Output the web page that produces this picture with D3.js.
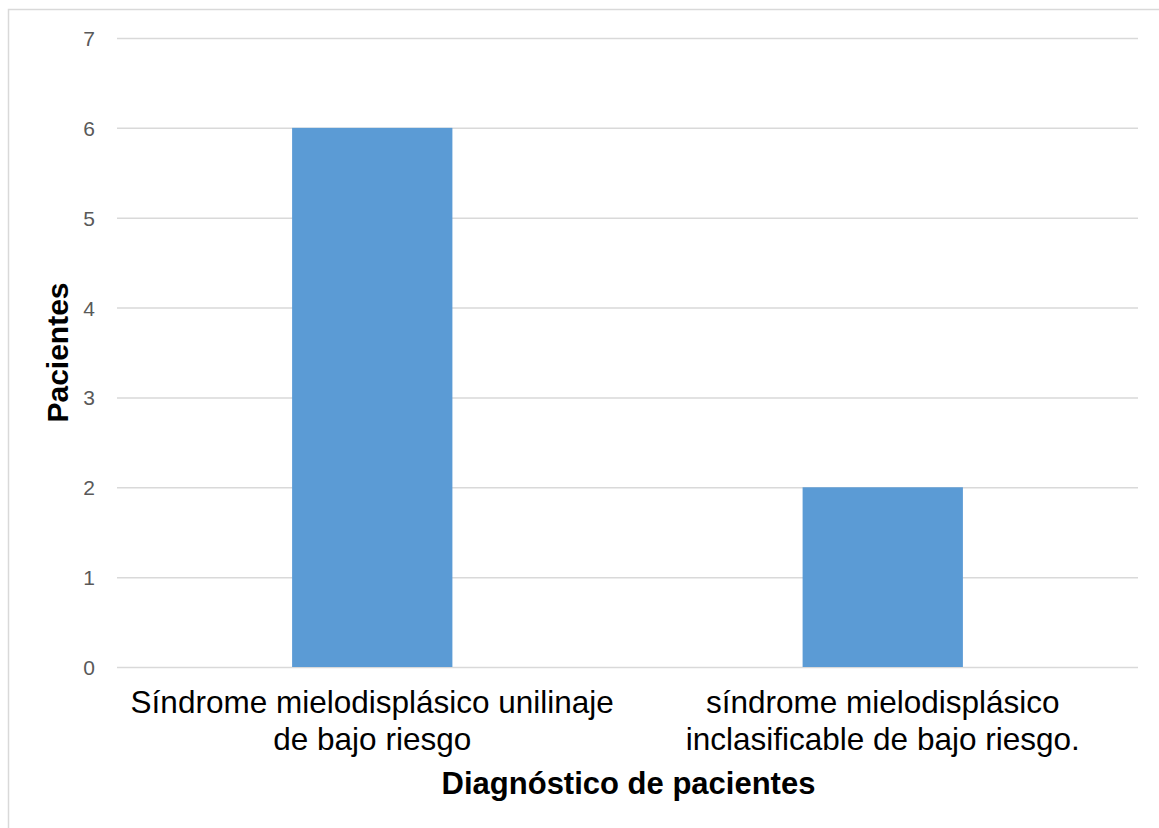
<!DOCTYPE html>
<html>
<head>
<meta charset="utf-8">
<script src="https://cdn.jsdelivr.net/npm/d3@7"></script>
<style>
  body { margin: 0; background: #fff; }
  text { font-family: "Liberation Sans", Arial, sans-serif; }
</style>
</head>
<body>
<div id="chart"></div>
<script>
// data
const categories = [
  ["Síndrome mielodisplásico unilinaje", "de bajo riesgo"],
  ["síndrome mielodisplásico", "inclasificable de bajo riesgo."]
];
const patients = [6, 2];
const yTicks = [0, 1, 2, 3, 4, 5, 6, 7];

const W = 1159, H = 828;
const plot = {left: 117, right: 1138, top: 38, bottom: 667};

const svg = d3.select("#chart").append("svg")
  .attr("width", W)
  .attr("height", H);

// outer chart border (runs off the right and bottom of the picture)
svg.append("rect")
  .attr("x", 8.5).attr("y", 9.5)
  .attr("width", W).attr("height", H)
  .attr("fill", "none")
  .attr("stroke", "#d9d9d9")
  .attr("stroke-width", 1.5);

const x = d3.scaleBand()
  .domain(d3.range(categories.length))
  .range([plot.left, plot.right])
  .paddingInner(0.686)
  .paddingOuter(0.343);

const y = d3.scaleLinear()
  .domain([0, 7])
  .range([plot.bottom, plot.top]);

// gridlines and y tick labels
const yAxis = d3.axisLeft(y)
  .tickValues(yTicks)
  .tickSize(-(plot.right - plot.left))
  .tickPadding(22)
  .tickFormat(d3.format("d"));

const gy = svg.append("g")
  .attr("transform", `translate(${plot.left},0)`)
  .call(yAxis);
gy.select(".domain").remove();
gy.selectAll(".tick line").attr("stroke", "#d9d9d9").attr("stroke-width", 1.5);
gy.selectAll(".tick text")
  .attr("fill", "#595959")
  .attr("dy", "0.36em")
  .style("font-size", "21px")
  .style("font-family", "'Liberation Sans', Arial, sans-serif");

// bars
svg.append("g").selectAll("rect")
  .data(patients)
  .join("rect")
  .attr("x", (d, i) => x(i))
  .attr("y", d => y(d))
  .attr("width", x.bandwidth())
  .attr("height", d => y(0) - y(d))
  .attr("fill", "#5b9bd5");

// category labels (two lines each)
const cat = svg.append("g").selectAll("text")
  .data(categories)
  .join("text")
  .attr("text-anchor", "middle")
  .attr("fill", "#000")
  .style("font-size", "31.5px");
cat.selectAll("tspan")
  .data((d, i) => d.map(t => ({t, i})))
  .join("tspan")
  .attr("x", d => x(d.i) + x.bandwidth() / 2)
  .attr("y", (d, j) => 713 + j * 37)
  .text(d => d.t);

// axis titles
svg.append("text")
  .attr("x", (plot.left + plot.right) / 2 + 1)
  .attr("y", 794)
  .attr("text-anchor", "middle")
  .style("font-size", "31px")
  .style("font-weight", "bold")
  .text("Diagnóstico de pacientes");

svg.append("text")
  .attr("transform", `translate(68,${(plot.top + plot.bottom) / 2}) rotate(-90)`)
  .attr("text-anchor", "middle")
  .style("font-size", "30px")
  .style("font-weight", "bold")
  .text("Pacientes");
</script>
</body>
</html>
